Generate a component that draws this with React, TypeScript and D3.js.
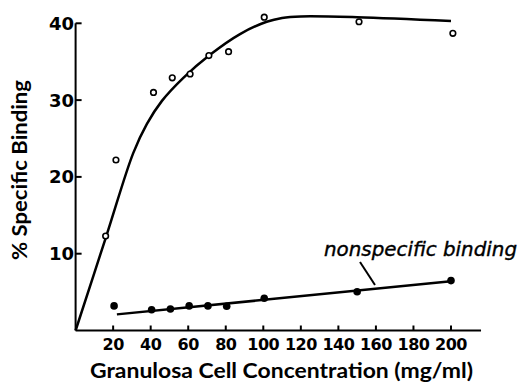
import React from "react";
import * as d3 from "d3";

// specific binding (open circles)
const specX = [16, 21.5, 41.5, 51.5, 61, 71, 81.5, 100.5, 151, 201];
const specY = [12.3, 22.2, 31, 32.9, 33.4, 35.8, 36.3, 40.8, 40.2, 38.7];
// hand-drawn fitted curve through the specific points
const specFitX = [0, 16.5, 30.7, 38, 46, 57.4, 71.6, 87.6, 101.8, 110, 120, 150, 200];
const specFitY = [0, 12.4, 23.1, 26.9, 29.9, 32.9, 35.9, 38.6, 40.2, 40.7, 40.9, 40.8, 40.3];

// nonspecific binding (filled circles)
const nsX = [20.5, 40.5, 50.5, 60.5, 70.5, 80.5, 100.5, 150, 200];
const nsY = [3.2, 2.7, 2.8, 3.2, 3.2, 3.15, 4.2, 5.05, 6.5];
const nsFitX = [22, 200];
const nsFitY = [2.1, 6.4];

const xTicks = [20, 40, 60, 80, 100, 120, 140, 160, 180, 200];
const yTicks = [10, 20, 30, 40];

const W = 518;
const H = 383;
const DIGITS = "'DejaVu Sans', sans-serif";
const TITLE = "Lato, 'DejaVu Sans', sans-serif";

const App = () => {
  const x = d3.scaleLinear().domain([0, 200]).range([75.6, 451]);
  const y = d3.scaleLinear().domain([0, 40]).range([330.5, 23.3]);

  const line = d3
    .line<[number, number]>()
    .x((d) => x(d[0]))
    .y((d) => y(d[1]))
    .curve(d3.curveCatmullRom.alpha(0.5));

  const specFit = specFitX.map((v, i) => [v, specFitY[i]] as [number, number]);
  const nsFit = nsFitX.map((v, i) => [v, nsFitY[i]] as [number, number]);

  return (
    <svg
      width={W}
      height={H}
      style={{ position: "absolute", left: 0, top: 0, background: "#fff" }}
    >
      {/* axes */}
      <g stroke="#000" strokeWidth={2} fill="none">
        <line x1={x(0)} x2={x(216)} y1={y(0)} y2={y(0)} />
        <line x1={x(0)} x2={x(0)} y1={y(0)} y2={y(40)} />
        {xTicks.map((t) => (
          <line key={t} x1={x(t)} x2={x(t)} y1={y(0)} y2={y(0) - 5} />
        ))}
        {yTicks.map((t) => (
          <line key={t} x1={x(0)} x2={x(0) + 6} y1={y(t)} y2={y(t)} />
        ))}
      </g>

      <g fill="#000">
        {xTicks.map((t) => (
          <text
            key={t}
            x={x(t)}
            y={350}
            fontSize={16}
            textAnchor="middle"
            fontFamily={DIGITS}
            fontWeight="bold"
            letterSpacing={-0.5}
          >
            {t}
          </text>
        ))}
        {yTicks.map((t) => (
          <text key={t} x={74} y={y(t) + 6.5} fontSize={18} textAnchor="end" fontFamily={DIGITS} fontWeight="bold">
            {t}
          </text>
        ))}
        <text
          x={281.5}
          y={378}
          fontSize={21}
          textAnchor="middle"
          fontFamily={TITLE}
          fontWeight="bold"
          textLength={383}
          lengthAdjust="spacingAndGlyphs"
        >
          Granulosa Cell Concentration (mg/ml)
        </text>
        <text
          transform="translate(27,170) rotate(-90)"
          fontSize={21}
          textAnchor="middle"
          fontFamily={TITLE}
          fontWeight="bold"
          textLength={180}
          lengthAdjust="spacingAndGlyphs"
        >
          % Specific Binding
        </text>
        <text
          x={324}
          y={256}
          fontSize={19.5}
          fontFamily={DIGITS}
          fontStyle="italic"
          stroke="#000"
          strokeWidth={0.4}
          textLength={193}
          lengthAdjust="spacingAndGlyphs"
        >
          nonspecific binding
        </text>
      </g>

      {/* leader for label */}
      <line x1={360} y1={262} x2={375} y2={285} stroke="#000" strokeWidth={2} />

      {/* fitted lines */}
      <path d={line(specFit) || ""} fill="none" stroke="#000" strokeWidth={2.5} />
      <path d={line(nsFit) || ""} fill="none" stroke="#000" strokeWidth={2.5} />

      {/* points */}
      {specX.map((v, i) => (
        <circle key={"s" + i} cx={x(v)} cy={y(specY[i])} r={2.8} fill="#fff" stroke="#000" strokeWidth={1.6} />
      ))}
      {nsX.map((v, i) => (
        <circle key={"n" + i} cx={x(v)} cy={y(nsY[i])} r={3.8} fill="#000" />
      ))}
    </svg>
  );
};

export default App;
